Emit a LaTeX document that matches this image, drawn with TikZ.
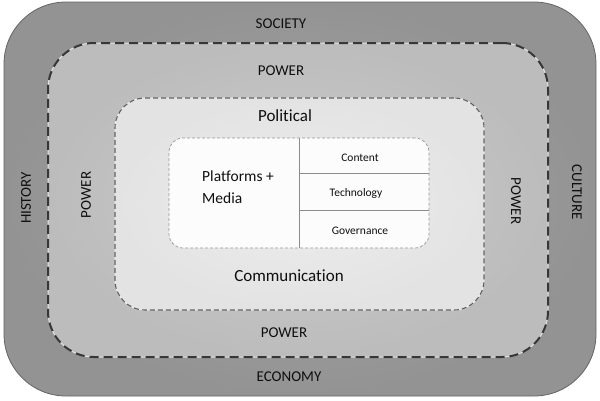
\documentclass[tikz,border=0pt]{standalone}
\usepackage{fontspec}
\setmainfont{Carlito}[Ligatures={NoCommon}]
\usetikzlibrary{calc}
\definecolor{ringA}{RGB}{166,166,166}
\definecolor{ringAo}{RGB}{147,147,147}
\definecolor{ringB}{RGB}{204,204,204}
\definecolor{ringBo}{RGB}{188,188,188}
\definecolor{ringC}{RGB}{237,237,237}
\definecolor{ringCo}{RGB}{227,227,227}
\definecolor{txt}{RGB}{15,15,15}
\tikzset{
  boxbase/.style={rectangle, inner sep=0pt, anchor=center},
  outerbox/.style={boxbase, draw={rgb,255:red,100;green,100;blue,100}, line width=0.8pt,
     inner color=ringA, outer color=ringAo, rounded corners=62pt},
  powerbox/.style={boxbase, draw={rgb,255:red,225;green,225;blue,225}, line width=1pt,
     inner color=ringB, outer color=ringBo, rounded corners=46pt,
     postaction={draw={rgb,255:red,55;green,55;blue,55}, line width=2pt, dash pattern=on 9pt off 5pt}},
  polbox/.style={boxbase, draw={rgb,255:red,245;green,245;blue,245}, line width=0.8pt,
     inner color=ringC, outer color=ringCo, rounded corners=30pt,
     postaction={draw={rgb,255:red,95;green,95;blue,95}, line width=1.1pt, dash pattern=on 5pt off 3pt}},
  innerbox/.style={boxbase, fill={rgb,255:red,252;green,252;blue,252}, rounded corners=14pt,
     draw={rgb,255:red,150;green,150;blue,150}, line width=0.7pt, dash pattern=on 3pt off 2pt},
  divider/.style={draw={rgb,255:red,140;green,140;blue,140}, line width=0.8pt},
  caplabel/.style={text=txt, font=\fontsize{15}{15}\selectfont, inner sep=0pt},
  biglabel/.style={text=txt, font=\fontsize{17}{17}\selectfont, inner sep=0pt},
  smalllabel/.style={text=txt, font=\fontsize{11.5}{11.5}\selectfont, inner sep=0pt},
}
\begin{document}
\begin{tikzpicture}[x=1pt,y=-1pt]
\useasboundingbox (0,0) rectangle (600,400);
\node[outerbox, minimum width=592pt, minimum height=394pt] (society) at (300,199) {};
\node[powerbox, minimum width=500pt, minimum height=314pt] (power) at (298,200) {};
\node[polbox, minimum width=369pt, minimum height=212pt] (pol) at (299.5,204) {};
\node[innerbox, minimum width=260pt, minimum height=110pt] (inner) at (299,193) {};
% dividers
\draw[divider] (inner.north) -- (inner.south);
\coordinate (h1) at (299,173);
\coordinate (h2) at (299,210);
\draw[divider] (h1) -- (h1 -| inner.east);
\draw[divider] (h2) -- (h2 -| inner.east);
% labels
\node[caplabel] (tsoc) at (281,24) {SOCIETY};
\node[caplabel] (teco) at (289,377) {ECONOMY};
\node[caplabel, rotate=90] (thist) at (26,198) {HISTORY};
\node[caplabel, rotate=-90] (tcult) at (577,192) {CULTURE};
\node[caplabel] (tpowt) at (281,71) {POWER};
\node[caplabel] (tpowb) at (284,333) {POWER};
\node[caplabel, rotate=90] (tpowl) at (86,195) {POWER};
\node[caplabel, rotate=-90] (tpowr) at (516,201) {POWER};
\node[biglabel] (tpol) at (285,116) {Political};
\node[biglabel] (tcom) at (289,276) {Communication};
\node[text=txt, font=\fontsize{15.5}{22}\selectfont, inner sep=0pt, align=left, anchor=west] (tplat) at (202,187) {Platforms +\\Media};
\node[smalllabel] (tcont) at (360,158) {Content};
\node[smalllabel] (ttech) at (356,193) {Technology};
\node[smalllabel] (tgov) at (360,231) {Governance};
\end{tikzpicture}
\end{document}
